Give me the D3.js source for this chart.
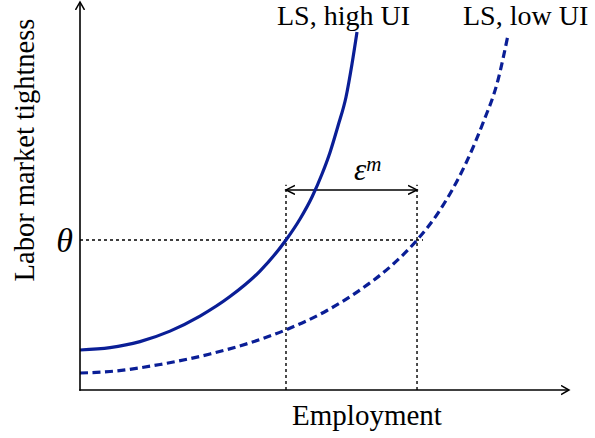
<!DOCTYPE html>
<html>
<head>
<meta charset="utf-8">
<script src="https://cdn.jsdelivr.net/npm/d3@7"></script>
<style>
  html, body { margin: 0; padding: 0; background: #fff; }
  svg { display: block; }
  text { font-family: "Liberation Serif", "DejaVu Serif", serif; fill: #000; }
</style>
</head>
<body>
<script>
// ---- Data (arbitrary units 0..100) ----
const highUI_x = [0, 6.12, 12.24, 18.37, 24.49, 30.61, 36.73, 42.04, 44.90, 47.35, 49.39, 51.02, 52.65, 54.29, 55.51, 56.53];
const highUI_y = [10.26, 10.87, 12.41, 15.10, 18.95, 23.95, 30.49, 38.46, 43.85, 49.49, 55.38, 60.92, 67.69, 75.13, 83.59, 91.79];
const lowUI_x  = [0, 6.12, 16.33, 26.53, 34.69, 41.84, 50.41, 57.14, 63.88, 68.78, 73.06, 78.78, 82.24, 85.31, 87.35];
const lowUI_y  = [4.36, 4.74, 6.54, 9.23, 12.10, 15.33, 20.38, 25.64, 32.23, 38.46, 45.38, 58.21, 68.46, 79.49, 91.03];
const seriesLabels = ["LS, high UI", "LS, low UI"];
const theta = 38.46;         // equilibrium tightness
const empHigh = 42.04;       // employment on high-UI curve at theta
const empLow = 68.78;        // employment on low-UI curve at theta
const epsLevel = 51.3;       // height of the ε^m arrow
const guideTop = 52.6;       // top of vertical guides
const thetaLineEnd = 70.0;   // end of the theta guide
const axisXMax = 100, axisYMax = 99.5;
const xTitle = "Employment", yTitle = "Labor market tightness";

// ---- Setup ----
const W = 595, H = 438;
const svg = d3.select("body").append("svg").attr("width", W).attr("height", H);
const x = d3.scaleLinear().domain([0, 100]).range([80, 570]);
const y = d3.scaleLinear().domain([0, 100]).range([390, 0]);

const defs = svg.append("defs");
function chevron(id, len, half) {
  defs.append("marker").attr("id", id)
    .attr("markerUnits", "userSpaceOnUse")
    .attr("viewBox", `0 ${-half - 1} ${len + 2} ${2 * half + 2}`)
    .attr("refX", len).attr("refY", 0)
    .attr("markerWidth", len + 2).attr("markerHeight", 2 * half + 2)
    .attr("orient", "auto-start-reverse")
    .append("path").attr("d", `M0,${-half} L${len},0 L0,${half}`)
    .attr("fill", "none").attr("stroke", "#000").attr("stroke-width", 1.5);
}
chevron("axisArrow", 8, 4.5);
chevron("epsArrow", 9, 4.5);

const blue = "#0a1e96";

// guides (dotted)
const g = svg.append("g").attr("stroke", "#000").attr("stroke-width", 1.4)
  .attr("stroke-dasharray", "3,3").attr("fill", "none");
g.append("line").attr("x1", x(0)).attr("x2", x(thetaLineEnd)).attr("y1", y(theta)).attr("y2", y(theta));
g.append("line").attr("x1", x(empHigh)).attr("x2", x(empHigh)).attr("y1", y(0)).attr("y2", y(guideTop));
g.append("line").attr("x1", x(empLow)).attr("x2", x(empLow)).attr("y1", y(0)).attr("y2", y(guideTop));

// ε arrow
svg.append("line").attr("x1", x(empHigh)).attr("x2", x(empLow))
  .attr("y1", y(epsLevel)).attr("y2", y(epsLevel))
  .attr("stroke", "#000").attr("stroke-width", 1.4)
  .attr("marker-start", "url(#epsArrow)").attr("marker-end", "url(#epsArrow)");

// curves
const line = d3.line().x(d => x(d[0])).y(d => y(d[1])).curve(d3.curveMonotoneX);
svg.append("path").datum(d3.zip(lowUI_x, lowUI_y)).attr("d", line)
  .attr("fill", "none").attr("stroke", blue).attr("stroke-width", 3.2)
  .attr("stroke-dasharray", "8,4.5");
svg.append("path").datum(d3.zip(highUI_x, highUI_y)).attr("d", line)
  .attr("fill", "none").attr("stroke", blue).attr("stroke-width", 3.2);

// axes
svg.append("line").attr("x1", x(0)).attr("x2", x(0)).attr("y1", y(0) + 0.75).attr("y2", y(axisYMax))
  .attr("stroke", "#000").attr("stroke-width", 1.6).attr("marker-end", "url(#axisArrow)");
svg.append("line").attr("x1", x(0) - 0.75).attr("x2", x(axisXMax) - 1).attr("y1", y(0)).attr("y2", y(0))
  .attr("stroke", "#000").attr("stroke-width", 1.6).attr("marker-end", "url(#axisArrow)");

// labels
svg.append("text").attr("x", 367).attr("y", 425).attr("text-anchor", "middle")
  .attr("font-size", 29).text(xTitle);
svg.append("text").attr("transform", "translate(34,150) rotate(-90)").attr("text-anchor", "middle")
  .attr("font-size", 28.5).text(yTitle);
svg.append("text").attr("x", 277).attr("y", 25).attr("font-size", 28).text(seriesLabels[0]);
svg.append("text").attr("x", 463).attr("y", 25).attr("font-size", 28).text(seriesLabels[1]);
svg.append("text").attr("x", 73).attr("y", 252).attr("text-anchor", "end")
  .attr("font-size", 34).attr("font-style", "italic").text("θ");
const eps = svg.append("text").attr("x", 354).attr("y", 180).attr("font-size", 31).attr("font-style", "italic");
eps.append("tspan").text("ε");
eps.append("tspan").attr("font-size", 21).attr("dy", -9).text("m");
</script>
</body>
</html>
